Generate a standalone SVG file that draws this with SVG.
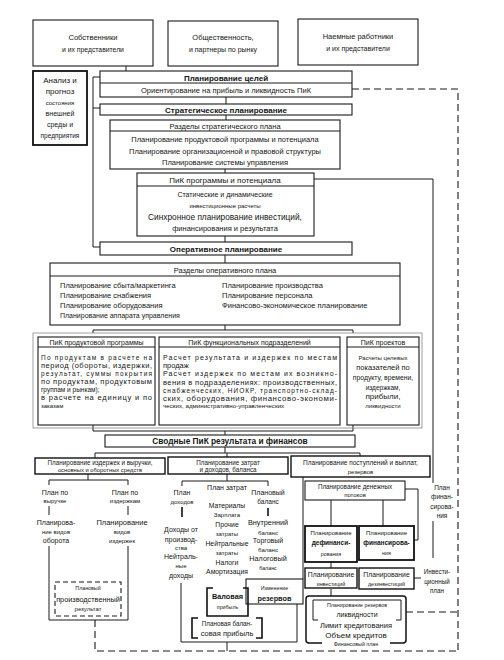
<svg xmlns="http://www.w3.org/2000/svg" width="504" height="660" viewBox="0 0 504 660">
<style>
.bx{fill:#fff;stroke:#1a1a1a;stroke-width:1.1}
.bk{fill:#fff;stroke:#111;stroke-width:1.8}
.ln{fill:none;stroke:#1a1a1a;stroke-width:1}
.dl{fill:none;stroke:#1a1a1a;stroke-width:1.1;stroke-dasharray:7 4}
.br{fill:none;stroke:#111;stroke-width:1.6}
text{font-family:"Liberation Sans",Arial,sans-serif;fill:#151515;text-anchor:middle;font-size:7.5px}
.l{text-anchor:start}
.h{font-weight:bold;font-size:8px}
.s{font-size:6px}
.xs{font-size:5.3px}
.m{font-size:8.5px}
.sb{font-weight:bold}
</style>
<rect width="504" height="660" fill="#fff"/>

<g id="connectors">
<path class="ln" d="M126,66 V71"/>
<path class="ln" d="M100,77 H93 V247 H100 M93,108 H100"/>
<path class="ln" d="M226,97 V104 M226,115 V120 M225,169 V173 M225,236 V242 M225,255 V263"/>
<path class="ln" d="M314,179 H433 V483 M433,521 V558"/>
<path class="ln" d="M225,325 V330 M93,333 V330 H353 V333"/>
<path class="ln" d="M93,425 V431 H353 V425 M225,431 V435"/>
<path class="ln" d="M225,447 V453 M95,458 V453 H360 V456 M227,453 V457"/>
<path class="ln" d="M88,474 V480 M49,485 V480 H128 V485"/>
<path class="ln" d="M49,506 V515 M128,506 V515"/>
<path class="ln" d="M49,546 V620 H128 V546"/>
<path class="dl" d="M95,620 V651 H458 M352,89 H458 V651"/>
<path class="ln" d="M227,474 V481 M182,486 V481 H268 V486"/>
<path class="br" d="M182,507 V517 M268,508 V516"/>
<path class="ln" d="M181,583 V642 H297 V604 M227,642 V651"/>
<path class="ln" d="M303,477 V579"/>
<path class="ln" d="M331,500 V526 M383,500 V526 M331,562 V568 M331,589 V596"/>
<path class="ln" d="M405,489 H418 V540 H414 M414,578 H421"/>
<path class="dl" d="M406,612 H458"/>
</g>

<g id="n-owners"><rect class="bx" x="33" y="20" width="120" height="46"/>
<text x="93" y="40">Собственники</text><text x="93" y="52" class="s" style="font-size:6.8px">и их представители</text></g>
<g id="n-public"><rect class="bx" x="168" y="21" width="110" height="45"/>
<text x="223" y="40">Общественность,</text><text x="223" y="52" style="font-size:7px">и партнеры по рынку</text></g>
<g id="n-workers"><rect class="bx" x="298" y="19" width="120" height="46"/>
<text x="358" y="39">Наемные работники</text><text x="358" y="51" style="font-size:7px">и их представители</text></g>

<g id="n-analysis"><rect class="bk" x="33" y="71" width="54" height="74"/>
<text x="60" y="83" style="font-size:8px">Анализ и</text><text x="60" y="94" style="font-size:8px">прогноз</text>
<text x="60" y="105" class="s">состояния</text><text x="60" y="116" style="font-size:7px">внешней</text>
<text x="60" y="127" style="font-size:7px">среды и</text><text x="60" y="138" style="font-size:6.5px">предприятия</text></g>

<g id="n-goals"><rect class="bx" x="100" y="71" width="252" height="26"/><path class="ln" d="M100,83 H352"/>
<text x="226" y="80.5" class="h">Планирование целей</text>
<text x="226" y="93">Ориентирование на прибыль и ликвидность ПиК</text></g>

<g id="n-strategic"><rect class="bx" x="100" y="104" width="252" height="11"/>
<text x="226" y="112.5" class="h">Стратегическое планирование</text></g>

<g id="n-strat-plan"><rect class="bx" x="110" y="120" width="230" height="49"/><path class="ln" d="M110,131 H340"/>
<text x="225" y="128.5">Разделы стратегического плана</text>
<text x="225" y="142">Планирование продуктовой программы и потенциала</text>
<text x="225" y="153.5">Планирование организационной и правовой структуры</text>
<text x="225" y="164.5">Планирование системы управления</text></g>

<g id="n-pik-program"><rect class="bx" x="137" y="173" width="177" height="63"/><path class="ln" d="M137,186 H314"/>
<text x="225" y="182.5" style="font-size:8px">ПиК программы и потенциала</text>
<text x="225" y="197" style="font-size:7px">Статические и динамические</text>
<text x="225" y="208" class="s">инвестиционные расчеты</text>
<text x="225" y="219.5" style="font-size:8.3px">Синхронное планирование инвестиций,</text>
<text x="225" y="231" style="font-size:7.5px">финансирования и результата</text></g>

<g id="n-operative"><rect class="bx" x="100" y="242" width="252" height="13"/>
<text x="226" y="251.5" class="h">Оперативное планирование</text></g>

<g id="n-op-plan"><rect class="bx" x="50" y="263" width="350" height="62"/><path class="ln" d="M50,276 H400"/>
<text x="225" y="272.5">Разделы оперативного плана</text>
<text x="60" y="287.5" class="l">Планирование сбыта/маркетинга</text>
<text x="60" y="297.5" class="l">Планирование снабжения</text>
<text x="60" y="307.5" class="l">Планирование оборудования</text>
<text x="60" y="318" class="l" style="font-size:7px">Планирование аппарата управления</text>
<text x="222" y="287.5" class="l">Планирование производства</text>
<text x="222" y="297.5" class="l">Планирование персонала</text>
<text x="222" y="307.5" class="l">Финансово-экономическое планирование</text></g>

<rect class="ln" x="33" y="333" width="389" height="95" style="stroke:#777;stroke-width:0.7"/>

<g id="n-pik-product"><rect class="bx" x="38" y="337" width="117" height="88"/><path class="ln" d="M38,347 H155"/>
<text x="96.5" y="345" style="font-size:7px">ПиК продуктовой программы</text>
<text x="41" y="359.5" class="l" textLength="111" lengthAdjust="spacing" style="font-size:6.5px">По продуктам в расчете на</text>
<text x="41" y="367.5" class="l" textLength="111" lengthAdjust="spacing" style="font-size:7.5px">период (обороты, издержки,</text>
<text x="41" y="375.5" class="l" textLength="111" lengthAdjust="spacing" style="font-size:6.5px">результат, суммы покрытия</text>
<text x="41" y="383.5" class="l" textLength="111" lengthAdjust="spacing">по продуктам, продуктовым</text>
<text x="41" y="391.5" class="l" style="font-size:6.5px">группам и рынкам);</text>
<text x="41" y="399.5" class="l" textLength="111" lengthAdjust="spacing">в расчете на единицу и по</text>
<text x="41" y="407.5" class="l" style="font-size:6px">заказам</text></g>

<g id="n-pik-functional"><rect class="bx" x="159" y="337" width="181" height="88"/><path class="ln" d="M159,347 H340"/>
<text x="249.5" y="345" style="font-size:7px">ПиК функциональных подразделений</text>
<text x="163" y="360" class="l" textLength="174" lengthAdjust="spacing" style="font-size:7px">Расчет результата и издержек по местам</text>
<text x="163" y="368" class="l">продаж</text>
<text x="163" y="376" class="l" textLength="174" lengthAdjust="spacing" style="font-size:7px">Расчет издержек по местам их возникно-</text>
<text x="163" y="384.5" class="l" textLength="174" lengthAdjust="spacing">вения в подразделениях: производственных,</text>
<text x="163" y="392.5" class="l" textLength="174" lengthAdjust="spacing" style="font-size:6.5px">снабженческих, НИОКР, транспортно-склад-</text>
<text x="163" y="400.5" class="l" textLength="174" lengthAdjust="spacing" style="font-size:7.8px">ских, оборудования, финансово-экономи-</text>
<text x="163" y="408" class="l" style="font-size:6.2px">ческих, административно-управленческих</text></g>

<g id="n-pik-projects"><rect class="bx" x="347" y="337" width="72" height="88"/><path class="ln" d="M347,347 H419"/>
<text x="383" y="345" style="font-size:7px">ПиК проектов</text>
<text x="383" y="360" class="s">Расчеты целевых</text>
<text x="383" y="369.5">показателей по</text>
<text x="383" y="380" style="font-size:6.8px">продукту, времени,</text>
<text x="383" y="390" style="font-size:6.5px">издержкам,</text>
<text x="383" y="399" style="font-size:8px">прибыли,</text>
<text x="383" y="408" class="s">ликвидности</text></g>

<g id="n-summary"><rect class="bx" x="105" y="435" width="250" height="12"/>
<text x="230" y="444" class="sb" style="font-size:8.3px">Сводные ПиК результата и финансов</text></g>

<g id="n-costs-revenue"><rect class="bk" x="35" y="458" width="130" height="16" style="stroke-width:1.4"/>
<text x="100" y="465" style="font-size:6.3px">Планирование издержек и выручки,</text>
<text x="100" y="471.8" style="font-size:5.8px">основных и оборотных средств</text></g>
<g id="t-a"><text x="55" y="494.5" style="font-size:7px">План по</text><text x="55" y="503" class="s">выручке</text>
<text x="125" y="494.5" style="font-size:7px">План по</text><text x="125" y="503" class="s">издержкам</text>
<text x="56" y="525" style="font-size:7px">Планирова-</text><text x="56" y="533.5" class="s">ние видов</text><text x="56" y="542.5" style="font-size:7px">оборота</text>
<text x="122" y="525" style="font-size:7.5px">Планирование</text><text x="122" y="533.5" class="s">видов</text><text x="122" y="542.5" class="s">издержек</text></g>
<g id="n-prod-result"><rect class="dl" x="55" y="582" width="66" height="34" style="stroke-dasharray:5 3;fill:#fff"/>
<text x="88" y="590" class="xs">Плановый</text><text x="88" y="601.5" style="font-size:7.3px">производственный</text><text x="88" y="611" class="s">результат</text></g>

<g id="n-costs-income"><rect class="bk" x="168" y="457" width="120" height="17" style="stroke-width:1.4"/>
<text x="228" y="464.5" style="font-size:6.3px">Планирование затрат</text>
<text x="228" y="472" style="font-size:6.3px">и доходов, баланса</text></g>
<g id="t-b">
<text x="182" y="494.5" style="font-size:7px">План</text><text x="182" y="504" class="s">доходов</text>
<text x="227" y="489.5" style="font-size:7px">План затрат</text>
<text x="268" y="494.5" style="font-size:7px">Плановый</text><text x="268" y="504" style="font-size:6.5px">баланс</text>
<text x="181" y="532" style="font-size:7px">Доходы от</text><text x="181" y="541.5" style="font-size:7px">производ-</text><text x="181" y="550" class="s">ства</text>
<text x="181" y="559" style="font-size:7px">Нейтраль-</text><text x="181" y="568" class="s">ные</text><text x="181" y="578" style="font-size:7px">доходы</text>
<text x="227" y="507.5" style="font-size:6.8px">Материалы</text><text x="227" y="517" class="s">Зарплата</text>
<text x="227" y="526.5" style="font-size:6.8px">Прочие</text><text x="227" y="536" class="s">затраты</text>
<text x="227" y="545.5" style="font-size:6.8px">Нейтральные</text><text x="227" y="555" class="s">затраты</text>
<text x="227" y="564.5" style="font-size:6.8px">Налоги</text><text x="227" y="574" style="font-size:6.8px">Амортизация</text>
<text x="268" y="525" style="font-size:7.3px">Внутренний</text><text x="268" y="534.5" class="s">баланс</text>
<text x="268" y="543" style="font-size:7px">Торговый</text><text x="268" y="551.5" class="s">баланс</text>
<text x="268" y="561" style="font-size:7.3px">Налоговый</text><text x="268" y="570" class="xs">баланс</text></g>

<g id="n-reserves"><rect class="bx" x="246" y="579" width="57" height="25"/>
<text x="274.5" y="590" class="xs">Изменение</text><text x="274.5" y="600.5" class="sb" style="font-size:7.3px">резервов</text></g>
<g id="n-gross"><path class="br" d="M213,588 H207 V616 H243 M243,588 H248 V616 H243"/>
<text x="227.5" y="599" class="sb" style="font-size:7.3px">Валовая</text><text x="227.5" y="608.5" class="xs">прибыль</text></g>
<g id="n-balance-profit"><path class="br" d="M198,618 H192 V638 H198 M256,618 H262 V638 H256"/>
<text x="227" y="626" style="font-size:6.3px">Плановая балан-</text><text x="227" y="635.5" style="font-size:7.5px">совая прибыль</text></g>

<g id="n-receipts"><rect class="bk" x="291" y="456" width="139" height="21" style="stroke-width:1.4"/>
<text x="360.5" y="464.5" style="font-size:6.5px">Планирование поступлений и выплат,</text>
<text x="360.5" y="473.5" class="s">резервов</text></g>
<g id="n-cashflow"><rect class="bx" x="305" y="481" width="100" height="19"/>
<text x="355" y="488.5" style="font-size:6.3px">Планирование денежных</text><text x="355" y="497" class="s">потоков</text></g>
<g id="n-definance"><rect class="bk" x="305" y="526" width="52" height="36"/>
<text x="331" y="535" style="font-size:6px">Планирование</text><text x="331" y="545" class="sb" style="font-size:6.5px">дефинанси-</text><text x="331" y="555.5" class="xs">рования</text></g>
<g id="n-finance"><rect class="bk" x="359" y="526" width="55" height="34"/>
<text x="386.5" y="535" style="font-size:6px">Планирование</text><text x="386.5" y="545" class="sb" style="font-size:6.5px">финансирова-</text><text x="386.5" y="555" class="xs">ния</text></g>
<g id="n-invest"><rect class="bk" x="305" y="568" width="52" height="20" style="stroke-width:1.4"/>
<text x="331" y="576.5" style="font-size:6.8px">Планирование</text><text x="331" y="585.5" class="xs">инвестиций</text></g>
<g id="n-disinvest"><rect class="bk" x="359" y="568" width="55" height="21" style="stroke-width:1.4"/>
<text x="386.5" y="577" style="font-size:6.8px">Планирование</text><text x="386.5" y="586" class="xs">дезинвестиций</text></g>
<g id="t-plans">
<text x="442" y="489.5" style="font-size:6.5px">План</text><text x="442" y="499" style="font-size:6.5px">финан-</text>
<text x="442" y="508.5" style="font-size:6.5px">сирова-</text><text x="442" y="518" style="font-size:6.5px">ния</text>
<text x="437" y="574" style="font-size:6.3px">Инвести-</text><text x="437" y="583.5" style="font-size:6.3px">ционный</text><text x="437" y="593" style="font-size:6.3px">план</text></g>
<g id="n-fin-plan"><rect class="bk" x="306" y="596" width="100" height="47" rx="3" style="stroke-width:1.5"/>
<path class="ln" d="M313,620 V600 H401 V620 M313,620 H318 M396,620 H401"/>
<text x="357" y="607" class="xs">Планирование резервов</text>
<text x="357" y="616.5" style="font-size:7px">ликвидности</text>
<text x="356" y="628" style="font-size:7.5px">Лимит кредитования</text>
<text x="356" y="637.5" style="font-size:8px">Объем кредитов</text>
<rect x="322" y="640" width="68" height="6" fill="#fff"/>
<text x="356" y="645.5" class="xs">Финансовый план</text></g>
</svg>
